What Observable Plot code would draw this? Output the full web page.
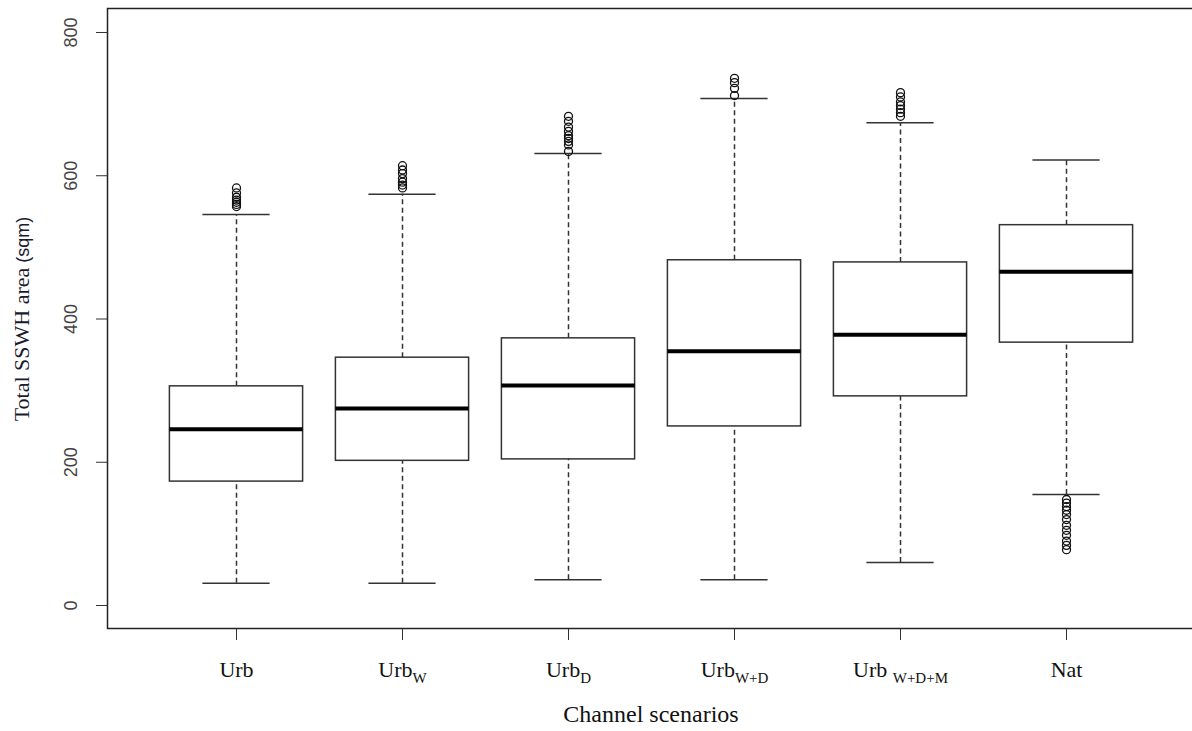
<!DOCTYPE html>
<html>
<head>
<meta charset="utf-8">
<script src="https://cdn.jsdelivr.net/npm/d3@7"></script>
<script src="https://cdn.jsdelivr.net/npm/@observablehq/plot@0.6"></script>
<style>
  html, body { margin: 0; padding: 0; background: #fff; overflow: hidden; }
</style>
</head>
<body>
<div id="chart"></div>
<script>
// Categories and label parts
const categories = ["Urb", "UrbW", "UrbD", "UrbW+D", "UrbW+D+M", "Nat"];
const labelMain = ["Urb", "Urb", "Urb", "Urb", "Urb ", "Nat"];
const labelSub = ["", "W", "D", "W+D", "W+D+M", ""];

// Box statistics (sqm)
const lowerWhisker = [31, 31, 36, 36, 60, 155];
const q1 = [173, 202, 204, 250, 292, 367];
const median = [246, 275, 307, 355, 378, 466];
const q3 = [306, 346, 373, 482, 479, 531];
const upperWhisker = [546, 574, 631, 708, 674, 622];

// Outliers
const outUrb = [557, 560, 563, 566, 570, 576, 583];
const outUrbW = [583, 587, 591, 596, 603, 608, 614];
const outUrbD = [634, 643, 648, 652, 656, 662, 668, 676, 683];
const outUrbWD = [712, 722, 730, 736];
const outUrbWDM = [683, 688, 693, 698, 703, 710, 716];
const outNat = [148, 143, 138, 133, 127, 120, 112, 105, 98, 90, 84, 78];

const yTicks = [0, 200, 400, 600, 800];

const boxes = categories.map((c, i) => ({
  cat: c, lo: lowerWhisker[i], q1: q1[i], med: median[i], q3: q3[i], hi: upperWhisker[i],
  main: labelMain[i], sub: labelSub[i]
}));
const outliers = [outUrb, outUrbW, outUrbD, outUrbWD, outUrbWDM, outNat]
  .flatMap((arr, i) => arr.map(v => ({cat: categories[i], v})));

const serif = "'Liberation Serif', 'DejaVu Serif', serif";
const sans = "'Liberation Sans', Arial, sans-serif";
const ink = "#333";

const chart = Plot.plot({
  width: 1192,
  height: 731,
  marginLeft: 107,
  marginRight: -2,
  marginTop: 8,
  marginBottom: 103,
  style: {background: "#fff", overflow: "hidden", color: "#333"},
  x: {domain: categories, range: [150.6, 1151.4], padding: 0, tickSize: 12, tickFormat: () => "", label: null},
  y: {domain: [-32.1, 833.5], ticks: yTicks, tickSize: 11, tickFormat: () => "", label: null},
  marks: [
    // whiskers (dashed)
    Plot.ruleX(boxes, {x: "cat", y1: "q3", y2: "hi", stroke: ink, strokeWidth: 1.5, strokeDasharray: "5,3.5"}),
    Plot.ruleX(boxes, {x: "cat", y1: "lo", y2: "q1", stroke: ink, strokeWidth: 1.5, strokeDasharray: "5,3.5"}),
    // whisker caps
    Plot.tickY(boxes, {x: "cat", y: "hi", stroke: ink, strokeWidth: 1.5, inset: 49.4}),
    Plot.tickY(boxes, {x: "cat", y: "lo", stroke: ink, strokeWidth: 1.5, inset: 49.4}),
    // boxes
    Plot.barY(boxes, {x: "cat", y1: "q1", y2: "q3", fill: "#fff", stroke: ink, strokeWidth: 1.5, insetLeft: 16.4, insetRight: 16.4}),
    // medians
    Plot.tickY(boxes, {x: "cat", y: "med", stroke: "#000", strokeWidth: 4, inset: 16.4}),
    // outliers
    Plot.dot(outliers, {x: "cat", y: "v", r: 4, stroke: "#111", strokeWidth: 1.3, fill: "none"}),
    // y tick labels (rotated)
    Plot.text(yTicks, {y: d => d, text: d => String(d), frameAnchor: "left", dx: -36, rotate: -90,
      textAnchor: "middle", fontFamily: sans, fontSize: 18, fill: "#444"}),
    // x labels
    Plot.text(boxes, {x: "cat", text: "main", frameAnchor: "bottom", dy: 48, fontFamily: serif, fontSize: 22,
      fill: "#111", textAnchor: "middle"}),
    // axis titles
    Plot.text(["Channel scenarios"], {frameAnchor: "bottom", dy: 93, fontFamily: serif, fontSize: 24,
      textAnchor: "middle", fill: "#111"}),
    Plot.text(["Total SSWH area"], {y: [400], frameAnchor: "left", dx: -86, rotate: -90, textAnchor: "middle",
      fontFamily: serif, fontSize: 22, fill: "#1a1a2e"}),
    Plot.frame({stroke: "#222", strokeWidth: 1.5})
  ]
});

// Add subscripts to the x labels and "(sqm)" to the y title
const allTexts = Array.from(chart.querySelectorAll("text"));
const xLabelTexts = allTexts.filter(t => labelMain.includes(t.textContent));
xLabelTexts.forEach((t, i) => {
  const sub = labelSub[i];
  if (sub) {
    const ts = document.createElementNS("http://www.w3.org/2000/svg", "tspan");
    ts.setAttribute("dy", "0.4em");
    ts.setAttribute("font-size", "15");
    ts.textContent = sub;
    t.appendChild(ts);
  }
});
allTexts.filter(t => t.textContent === "Total SSWH area").forEach(t => {
  const ts = document.createElementNS("http://www.w3.org/2000/svg", "tspan");
  ts.setAttribute("font-family", sans);
  ts.setAttribute("font-size", "18");
  ts.textContent = " (sqm)";
  t.appendChild(ts);
});

document.getElementById("chart").appendChild(chart);
</script>
</body>
</html>
